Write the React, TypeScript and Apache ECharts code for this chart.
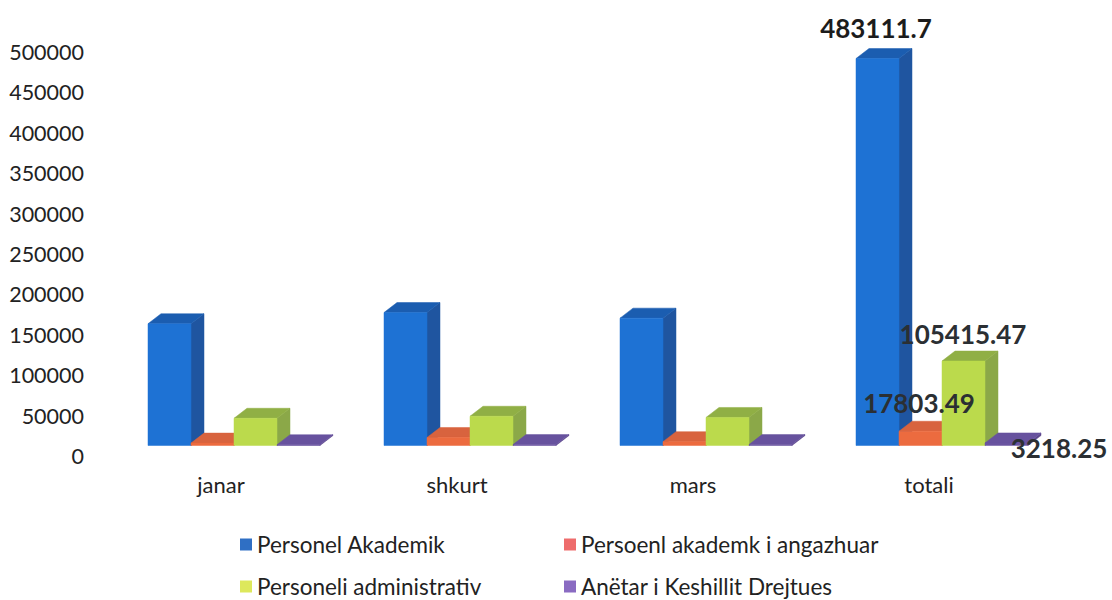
import React, { useEffect, useRef } from "react";
import * as echarts from "echarts";

const categories = ["janar", "shkurt", "mars", "totali"];
const seriesNames = ["Personel Akademik", "Persoenl akademk i angazhuar", "Personeli administrativ", "Anëtar i Keshillit Drejtues"];
const akademik = [152000, 166000, 159000, 483111.7];
const angazhuar = [3000, 10000, 4800, 17803.49];
const administrativ = [34000, 36500, 35000, 105415.47];
const keshilli = [1000, 1100, 1118, 3218.25];
const allValues = [akademik, angazhuar, administrativ, keshilli];
const yTicks = { min: 0, max: 500000, interval: 50000 };

const legendColors = ["#2F6FC4", "#EE6C6C", "#DDE85C", "#8A6BC2"];
const faces = [
  { front: "#1E72D4", top: "#1B5DB0", side: "#1F55A0" },
  { front: "#EC6B3F", top: "#D8633E", side: "#B85638" },
  { front: "#BBDA4C", top: "#90AF45", side: "#8BA848" },
  { front: "#6A54A0", top: "#67529E", side: "#5C468C" },
];
const labelYs = [28, 403, 334, 448];
const labelCenters = [876, 919, 963, 1059];

const FONT = "Lato, 'Open Sans', sans-serif";
const BAR_W = 43;
const DX = 13;
const DY = 10;

function makeRender(idx: number) {
  return (_p: any, api: any) => {
    const cat = api.value(0);
    const val = api.value(1);
    const base = api.coord([cat, 0]);
    const top = api.coord([cat, val]);
    const x0 = base[0] - 2 * BAR_W + idx * BAR_W;
    const x1 = x0 + BAR_W;
    const yb = base[1];
    const yt = top[1];
    const f = faces[idx];
    const poly = (pts: number[][], fill: string) => ({
      type: "polygon",
      shape: { points: pts },
      style: { fill, stroke: fill, lineWidth: 0.5 },
    });
    const children: any[] = [
      poly([[x1, yb], [x1 + DX, yb - DY], [x1 + DX, yt - DY], [x1, yt]], f.side),
      poly([[x0, yt], [x0 + DX, yt - DY], [x1 + DX, yt - DY], [x1, yt]], f.top),
      poly([[x0, yb], [x1, yb], [x1, yt], [x0, yt]], f.front),
    ];
    if (cat === categories.length - 1) {
      children.push({
        type: "text",
        z2: 100,
        x: labelCenters[idx],
        y: labelYs[idx],
        style: {
          text: String(val),
          fill: idx === 0 ? "#1c1c1c" : "#2b2f33",
          font: `bold 26px ${FONT}`,
          align: "center",
          verticalAlign: "middle",
        },
      });
    }
    return { type: "group", children };
  };
}

export default function App() {
  const ref = useRef<HTMLDivElement>(null);
  useEffect(() => {
    const chart = echarts.init(ref.current!, undefined, { renderer: "svg" });
    const legendPos = [
      { left: 240, top: 533 },
      { left: 564, top: 533 },
      { left: 240, top: 575 },
      { left: 564, top: 575 },
    ];
    chart.setOption({
      animation: false,
      backgroundColor: "#ffffff",
      grid: [
        { left: 103, width: 944, top: 52, height: 404 },
        { left: 116, width: 944, top: 45, height: 400.5 },
      ],
      xAxis: [
        {
          type: "category",
          gridIndex: 0,
          data: categories,
          axisLine: { show: false },
          axisTick: { show: false },
          axisLabel: { color: "#222", fontFamily: FONT, fontSize: 22, margin: 17 },
        },
        { type: "category", gridIndex: 1, data: categories, show: false },
      ],
      yAxis: [
        {
          type: "value",
          gridIndex: 0,
          ...yTicks,
          axisLine: { show: false },
          axisTick: { show: false },
          splitLine: { show: false },
          axisLabel: {
            color: "#222",
            fontFamily: FONT,
            fontSize: 21.5,
            margin: 19,
            padding: [0, 0, 2, 0],
            formatter: (v: number) => String(v),
          },
        },
        { type: "value", gridIndex: 1, ...yTicks, show: false },
      ],
      legend: seriesNames.map((n, i) => ({
        show: true,
        data: [{ name: n, itemStyle: { color: legendColors[i] } }],
        left: legendPos[i].left,
        top: legendPos[i].top,
        icon: "rect",
        itemWidth: 12,
        itemHeight: 12,
        itemGap: 6,
        padding: 0,
        selectedMode: false,
        textStyle: { color: "#222", fontFamily: FONT, fontSize: 22.5, padding: [0, 0, 0, 0] },
      })),
      series: seriesNames.map((n, i) => ({
        type: "custom",
        name: n,
        xAxisIndex: 1,
        yAxisIndex: 1,
        itemStyle: { color: legendColors[i] },
        data: allValues[i].map((v, c) => [c, v]),
        encode: { x: 0, y: 1 },
        clip: false,
        renderItem: makeRender(i),
      })),
    });
    return () => chart.dispose();
  }, []);
  return <div ref={ref} style={{ position: "absolute", left: 0, top: 0, width: 1112, height: 600 }} />;
}
